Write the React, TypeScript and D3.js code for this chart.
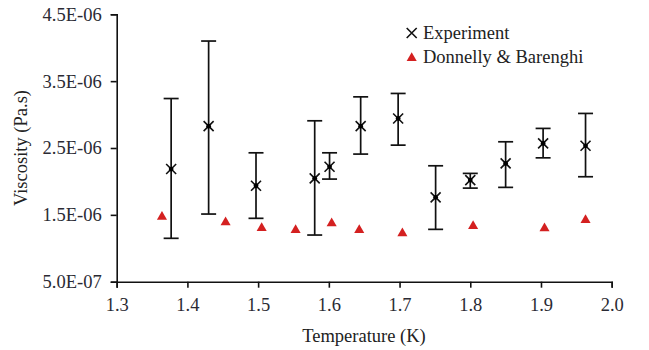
import React, { useRef, useEffect } from 'react';
import * as d3 from 'd3';

// Experiment (temperature K, viscosity Pa.s, error bar top / bottom)
const expTemp = [1.377, 1.43, 1.497, 1.58, 1.601, 1.645, 1.698, 1.751, 1.80, 1.85, 1.903, 1.963];
const expVisc = [2.185e-6, 2.827e-6, 1.935e-6, 2.046e-6, 2.219e-6, 2.827e-6, 2.942e-6, 1.762e-6, 2.02e-6, 2.27e-6, 2.569e-6, 2.533e-6];
const expHigh = [3.24e-6, 4.10e-6, 2.428e-6, 2.907e-6, 2.428e-6, 3.265e-6, 3.316e-6, 2.234e-6, 2.12e-6, 2.593e-6, 2.793e-6, 3.017e-6];
const expLow = [1.149e-6, 1.512e-6, 1.448e-6, 1.198e-6, 2.035e-6, 2.409e-6, 2.543e-6, 1.283e-6, 1.90e-6, 1.911e-6, 2.353e-6, 2.07e-6];

// Donnelly & Barenghi
const dbTemp = [1.364, 1.454, 1.505, 1.553, 1.604, 1.643, 1.704, 1.804, 1.905, 1.963];
const dbVisc = [1.472e-6, 1.388e-6, 1.303e-6, 1.273e-6, 1.373e-6, 1.273e-6, 1.223e-6, 1.333e-6, 1.298e-6, 1.422e-6];

const xTicks = [1.3, 1.4, 1.5, 1.6, 1.7, 1.8, 1.9, 2.0];
const yTicks = [0.5e-6, 1.5e-6, 2.5e-6, 3.5e-6, 4.5e-6];

const seriesNames = ['Experiment', 'Donnelly & Barenghi'];

const W = 649;
const H = 350;
const FONT = '"Liberation Serif", "Times New Roman", serif';
const FS = 18.5;
const RED = '#d42020';

// 4.5e-6 -> 4.5E-06
const fmtSci = (v: number) => {
  const [m, e] = v.toExponential(1).split('e');
  const n = parseInt(e, 10);
  const sign = n < 0 ? '-' : '+';
  return m + 'E' + sign + String(Math.abs(n)).padStart(2, '0');
};

export default function App() {
  const ref = useRef<HTMLDivElement>(null);

  useEffect(() => {
    const ele = ref.current;
    if (!ele) return;
    d3.select(ele).selectAll('*').remove();

    const svg = d3.select(ele)
      .append('svg')
      .attr('width', W)
      .attr('height', H)
      .style('display', 'block')
      .style('background', '#fff');

    const x = d3.scaleLinear().domain([1.3, 2.0]).range([116.7, 611.7]);
    const y = d3.scaleLinear().domain([0.5e-6, 4.5e-6]).range([281.7, 14.3]);

    // axes
    const xAxis = svg.append('g')
      .attr('transform', `translate(0,${y(0.5e-6)})`)
      .call(d3.axisBottom(x).tickValues(xTicks).tickFormat(d3.format('.1f')).tickSizeOuter(0).tickSize(6).tickPadding(10));
    const yAxis = svg.append('g')
      .attr('transform', `translate(${x(1.3)},0)`)
      .call(d3.axisLeft(y).tickValues(yTicks).tickFormat((d: any) => fmtSci(d)).tickSizeOuter(0).tickSize(6).tickPadding(9));

    [xAxis, yAxis].forEach(a => {
      a.select('.domain').attr('stroke', '#111').attr('stroke-width', 1.6);
      a.selectAll('.tick line').attr('stroke', '#111').attr('stroke-width', 1.6);
      a.selectAll('.tick text')
        .attr('font-family', FONT)
        .attr('font-size', FS)
        .attr('fill', '#2a2a33');
    });

    // axis titles
    svg.append('text')
      .attr('x', 364)
      .attr('y', 342)
      .attr('text-anchor', 'middle')
      .attr('font-family', FONT)
      .attr('font-size', FS)
      .attr('fill', '#222')
      .text('Temperature (K)');

    svg.append('text')
      .attr('transform', 'translate(27,148) rotate(-90)')
      .attr('text-anchor', 'middle')
      .attr('font-family', FONT)
      .attr('font-size', FS)
      .attr('fill', '#222')
      .text('Viscosity (Pa.s)');

    // error bars
    const cap = 7.5;
    const eb = svg.append('g').attr('stroke', '#111').attr('stroke-width', 1.7).attr('fill', 'none');
    expTemp.forEach((t, i) => {
      const cx = x(t);
      eb.append('line').attr('x1', cx).attr('x2', cx).attr('y1', y(expHigh[i])).attr('y2', y(expLow[i]));
      eb.append('line').attr('x1', cx - cap).attr('x2', cx + cap).attr('y1', y(expHigh[i])).attr('y2', y(expHigh[i]));
      eb.append('line').attr('x1', cx - cap).attr('x2', cx + cap).attr('y1', y(expLow[i])).attr('y2', y(expLow[i]));
    });

    // experiment markers (x with a dark centre)
    const drawX = (g: any, cx: number, cy: number, s: number, dot: boolean) => {
      g.append('path')
        .attr('d', `M${cx - s},${cy - s}L${cx + s},${cy + s}M${cx - s},${cy + s}L${cx + s},${cy - s}`)
        .attr('stroke', '#111')
        .attr('stroke-width', 1.6)
        .attr('fill', 'none');
      if (dot) g.append('circle').attr('cx', cx).attr('cy', cy).attr('r', 2.4).attr('fill', '#000');
    };
    const mk = svg.append('g');
    expTemp.forEach((t, i) => drawX(mk, x(t), y(expVisc[i]), 5, true));

    // Donnelly & Barenghi triangles
    const tri = d3.symbol().type(d3.symbolTriangle).size(44);
    svg.append('g')
      .selectAll('path')
      .data(dbTemp)
      .enter()
      .append('path')
      .attr('d', tri)
      .attr('transform', (d, i) => `translate(${x(d)},${y(dbVisc[i])})`)
      .attr('fill', RED);

    // legend
    const lg = svg.append('g');
    drawX(lg, 411.7, 33, 5, false);
    lg.append('path')
      .attr('d', tri)
      .attr('transform', 'translate(411.7,58)')
      .attr('fill', RED);
    seriesNames.forEach((name, i) => {
      lg.append('text')
        .attr('x', 423)
        .attr('y', 39 + i * 24)
        .attr('font-family', FONT)
        .attr('font-size', FS)
        .attr('fill', '#222')
        .text(name);
    });
  }, []);

  return (
    <div ref={ref} style={{ position: 'absolute', top: 0, left: 0 }}></div>
  );
}
